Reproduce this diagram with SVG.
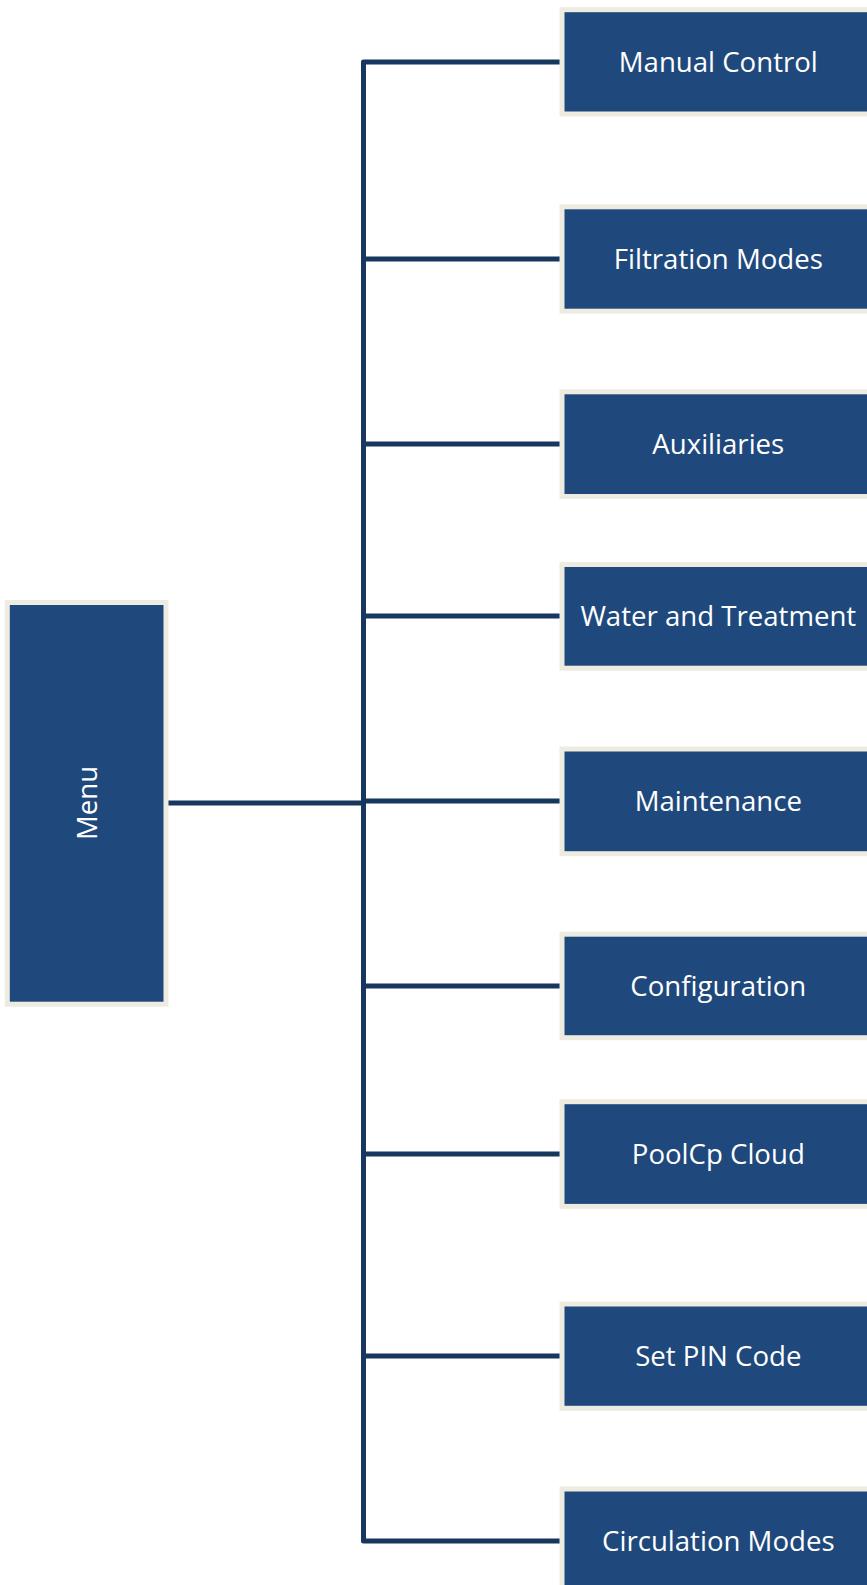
<svg xmlns="http://www.w3.org/2000/svg" width="867" height="1585" viewBox="0 0 867 1585">
<style>
.box{fill:#1F497D;stroke:#EEECE1;stroke-width:5}
.lbl{font-family:"Open Sans","Noto Sans",sans-serif;font-size:27.6px;fill:#FFFFFF;text-anchor:middle}
.con{fill:none;stroke:#17375E;stroke-width:5;stroke-linejoin:round}
</style>
<rect x="0" y="0" width="867" height="1585" fill="#FFFFFF"/>
<g id="connectors">
<path class="con" d="M560 62 H363.5 V1541 H560"/>
<path class="con" d="M168 803 H363.5"/>
<path class="con" d="M363.5 259 H560"/>
<path class="con" d="M363.5 444 H560"/>
<path class="con" d="M363.5 616 H560"/>
<path class="con" d="M363.5 801 H560"/>
<path class="con" d="M363.5 986 H560"/>
<path class="con" d="M363.5 1154 H560"/>
<path class="con" d="M363.5 1356 H560"/>
</g>
<g id="menu">
<rect class="box" x="7.3" y="602.5" width="158.7" height="401.7"/>
<text class="lbl" transform="translate(96.5 803) rotate(-90)" x="0" y="0">Menu</text>
</g>
<g id="manual-control">
<rect class="box" x="562" y="9.7" width="320" height="104.3"/>
<text class="lbl" x="718.3" y="71.5">Manual Control</text>
</g>
<g id="filtration-modes">
<rect class="box" x="562" y="206.8" width="320" height="104.4"/>
<text class="lbl" x="718.3" y="268.7">Filtration Modes</text>
</g>
<g id="auxiliaries">
<rect class="box" x="562" y="391.8" width="320" height="104.7"/>
<text class="lbl" x="718.3" y="453.8">Auxiliaries</text>
</g>
<g id="water-and-treatment">
<rect class="box" x="562" y="564.5" width="320" height="103.7"/>
<text class="lbl" x="718.3" y="626">Water and Treatment</text>
</g>
<g id="maintenance">
<rect class="box" x="562" y="749" width="320" height="104.7"/>
<text class="lbl" x="718.3" y="811">Maintenance</text>
</g>
<g id="configuration">
<rect class="box" x="562" y="934.2" width="320" height="103.5"/>
<text class="lbl" x="718.3" y="995.7">Configuration</text>
</g>
<g id="poolcp-cloud">
<rect class="box" x="562" y="1101.7" width="320" height="104.7"/>
<text class="lbl" x="718.3" y="1163.7">PoolCp Cloud</text>
</g>
<g id="set-pin-code">
<rect class="box" x="562" y="1304" width="320" height="104.3"/>
<text class="lbl" x="718.3" y="1365.8">Set PIN Code</text>
</g>
<g id="circulation-modes">
<rect class="box" x="562" y="1489" width="320" height="104"/>
<text class="lbl" x="718.3" y="1550.7">Circulation Modes</text>
</g>
</svg>
